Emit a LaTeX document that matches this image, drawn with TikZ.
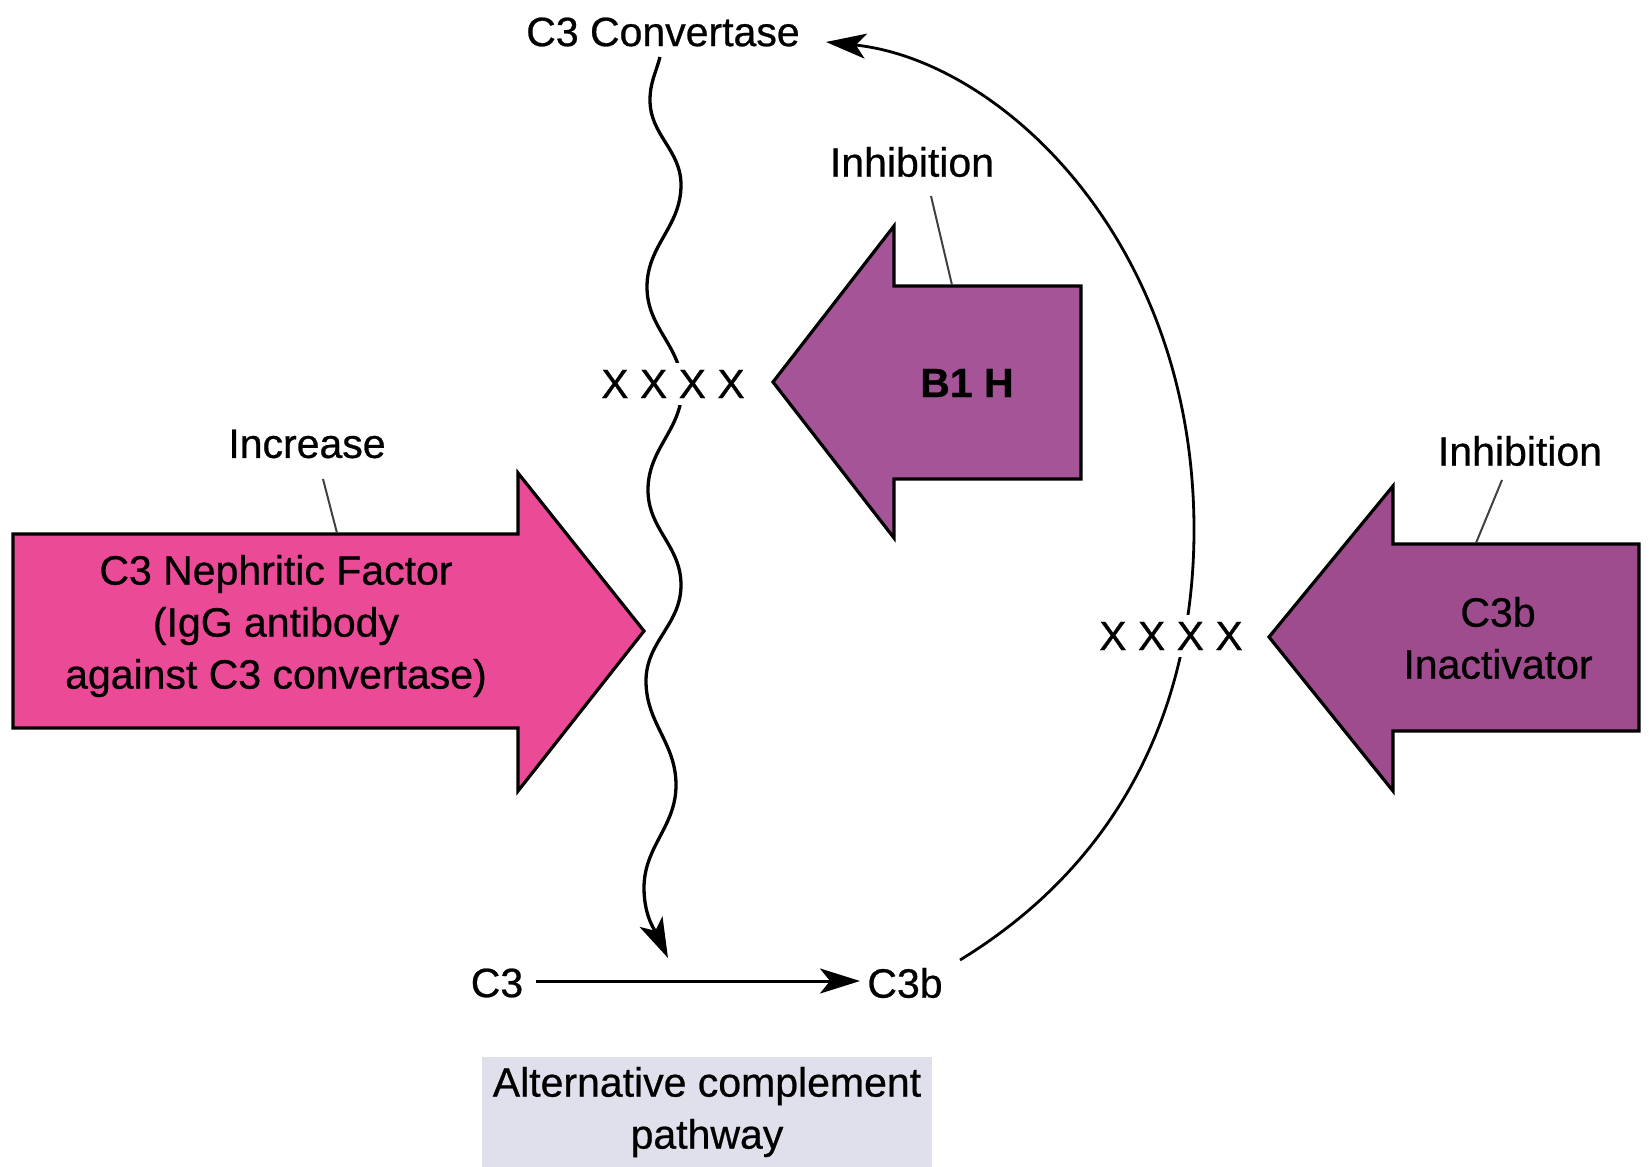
\documentclass[tikz,border=0pt]{standalone}
\usepackage{fontspec}
\setmainfont{Liberation Sans}[FakeBold=0.6]
\usetikzlibrary{arrows.meta}
\definecolor{pinkfill}{RGB}{234,74,150}
\definecolor{purpfill}{RGB}{166,84,152}
\definecolor{purpfillb}{RGB}{158,76,142}
\definecolor{boxgray}{RGB}{224,224,236}
\begin{document}
\begin{tikzpicture}[x=1pt,y=-1pt,
  font=\fontsize{41}{52}\selectfont,
  lbl/.style={inner sep=2pt, align=center},
  xmark/.style={inner sep=7pt, fill=white},
  bigarrow/.style={draw=black, line width=3.2pt, line join=miter},
  leader/.style={draw=black!75, line width=2pt},
  conn/.style={draw=black, line width=3pt, -{Stealth[length=40pt,width=25pt,inset=10pt]}}]
\useasboundingbox (0,0) rectangle (1649,1167);

% big block arrows
\filldraw[bigarrow, fill=pinkfill] (13,534) -- (518,534) -- (518,473) -- (644,631) -- (518,791) -- (518,728) -- (13,728) -- cycle;
\filldraw[bigarrow, fill=purpfill] (1081,286) -- (894,286) -- (894,226) -- (773,382) -- (894,538) -- (894,479) -- (1081,479) -- cycle;
\filldraw[bigarrow, fill=purpfillb] (1639,544) -- (1393,544) -- (1393,486) -- (1269,637) -- (1393,791) -- (1393,731) -- (1639,731) -- cycle;

% grey box
\fill[boxgray] (482,1057) rectangle (932,1167);

% text nodes
\node[lbl] (conv) at (663,32) {C3 Convertase};
\node[lbl] (inc) at (307,444) {Increase};
\node[lbl] (nf) at (276,626) {C3 Nephritic Factor\\(IgG antibody\\against C3 convertase)};
\node[lbl] (inh1) at (912,162) {Inhibition};
\node[lbl] (b1h) at (967,383) {\bfseries B1 H};
\node[lbl] (inh2) at (1520,451) {Inhibition};
\node[lbl] (inact) at (1498,638) {C3b\\Inactivator};
\node[lbl] (c3) at (497,983) {C3};
\node[lbl] (c3b) at (905,983) {C3b};
\node[lbl] (alt) at (707,1112) {Alternative complement\\pathway};

% coordinates
\coordinate (w0) at (660,57);
\coordinate (wEnd) at (668,958);
\coordinate (arcStart) at (960,960);
\coordinate (arcEnd) at (826,42);
\coordinate (c3a) at (536,981);
\coordinate (c3bA) at (860,981);
\coordinate (incA) at (323,479);
\coordinate (incB) at (337,533);
\coordinate (inh1A) at (931,196);
\coordinate (inh1B) at (952,285);
\coordinate (inh2A) at (1502,480);
\coordinate (inh2B) at (1476,543);

% wavy line C3 convertase -> C3 conversion
\draw[conn, line width=3.3pt] (w0) to[out=-105,in=90] (650,100)
  to[out=-90,in=90] (681,185) to[out=-90,in=90] (647,287)
  to[out=-90,in=90] (682,388) to[out=-90,in=90] (648,490)
  to[out=-90,in=90] (681,585) to[out=-90,in=90] (646,681)
  to[out=-90,in=90] (676,785) to[out=-90,in=90] (644,888)
  to[out=-90,in=115] (wEnd);

% arc C3b -> C3 convertase
\draw[conn, line width=2.8pt] (arcStart) .. controls (1140,850) and (1194,680) .. (1194,530)
  .. controls (1194,240) and (1000,60) .. (arcEnd);

% C3 -> C3b
\draw[conn] (c3a) -- (c3bA);

% inhibition marks (drawn over lines)
\node[xmark] (x1) at (673,384) {X X X X};
\node[xmark] (x2) at (1171,636) {X X X X};

% leader lines
\draw[leader] (incA) -- (incB);
\draw[leader] (inh1A) -- (inh1B);
\draw[leader] (inh2A) -- (inh2B);
\end{tikzpicture}
\end{document}
